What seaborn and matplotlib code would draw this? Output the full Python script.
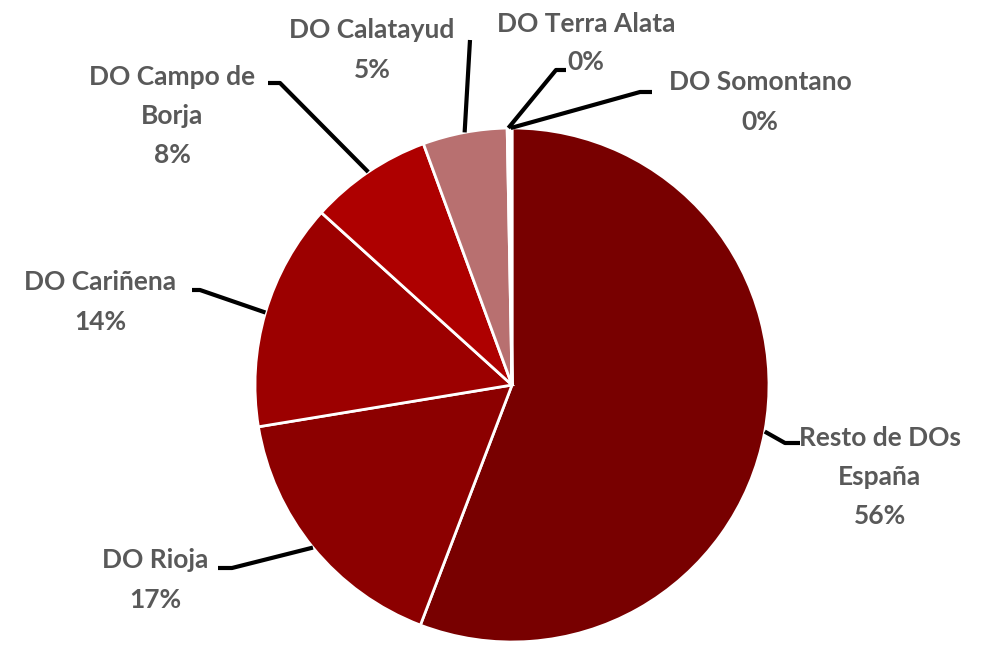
import numpy as np
import matplotlib.pyplot as plt
import seaborn as sns

# shares of each DO (percent)
names = ["Resto de DOs\nEspaña", "DO Rioja", "DO Cariñena", "DO Campo de\nBorja",
         "DO Calatayud", "DO Terra Alata", "DO Somontano"]
shares = [55.8, 16.6, 14.3, 7.7, 5.3, 0.15, 0.15]
colors = ["#780000", "#8c0000", "#9c0000", "#ae0000", "#b87070", "#c08080", "#c08080"]

W, H = 990, 648

# label layout in pixels: text centre, elbow, end of leader
label_pos = [(880, 477), (155, 580), (100, 302), (172, 116), (372, 50), (586, 43), (760, 102)]
leader_pts = [
    [(785, 443), (800, 443)],
    [(232, 568), (218, 568)],
    [(200, 290), (192, 290)],
    [(280, 83), (268, 83)],
    [(470, 40)],
    [(556, 70), (566, 70)],
    [(640, 92), (652, 92)],
]

sns.set_theme(style="white")
plt.rcParams['font.family'] = ['Lato', 'DejaVu Sans']

fig = plt.figure(figsize=(W / 100, H / 100), dpi=100)
ax = fig.add_axes([0, 0, 1, 1])

cx, cy, r = 512, H - 385, 257
wedges, _ = ax.pie(shares, colors=colors, startangle=90, counterclock=False,
                   center=(cx, cy), radius=r,
                   wedgeprops=dict(edgecolor="white", linewidth=2))

for w, name, val, (tx, ty), pts in zip(wedges, names, shares, label_pos, leader_pts):
    mid = np.deg2rad((w.theta1 + w.theta2) / 2)
    ax0 = cx + r * np.cos(mid)
    ay0 = cy + r * np.sin(mid)
    xs = [ax0] + [p[0] for p in pts]
    ys = [ay0] + [H - p[1] for p in pts]
    ax.plot(xs, ys, color="black", lw=3, solid_capstyle="butt")
    ax.text(tx, H - ty, f"{name}\n{round(val):.0f}%", ha="center", va="center",
            fontsize=19, fontweight="bold", color="#595959", linespacing=1.75)

ax.set_xlim(0, W)
ax.set_ylim(0, H)
ax.set_aspect("equal")
ax.axis("off")

plt.savefig("out.png", dpi=100)
